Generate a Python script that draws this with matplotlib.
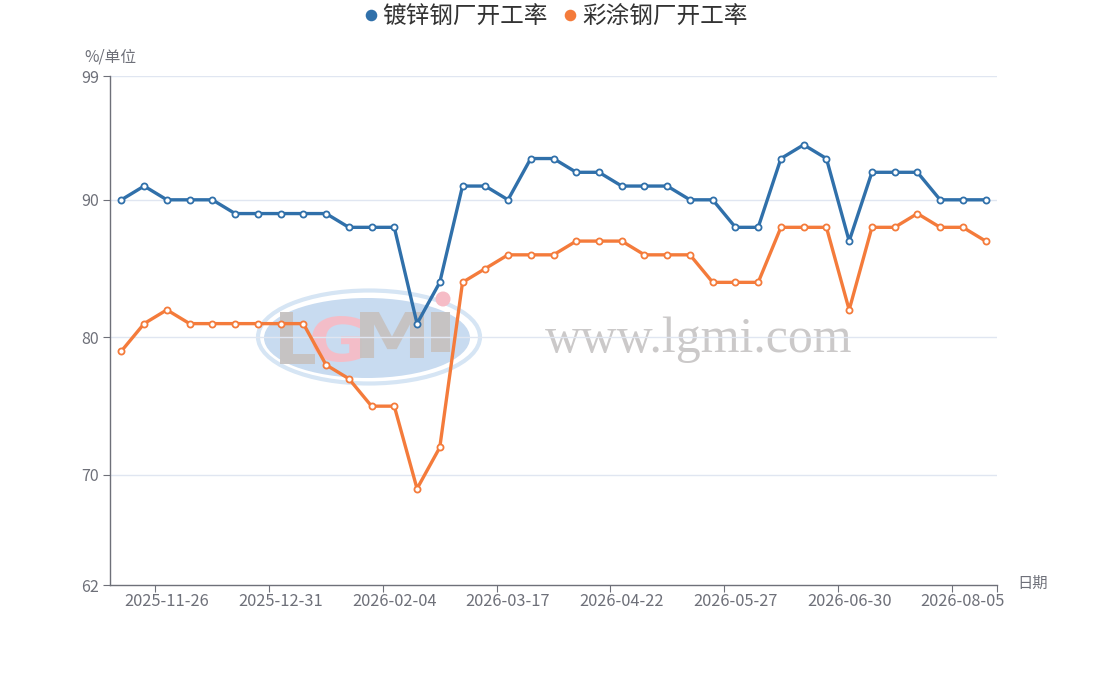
import matplotlib
matplotlib.use('Agg')
import matplotlib.pyplot as plt
from matplotlib.patches import Ellipse, Circle, PathPatch
from matplotlib.textpath import TextPath
from matplotlib.font_manager import FontProperties
from matplotlib.transforms import Affine2D

plt.rcParams['font.family'] = ['Noto Sans CJK SC', 'DejaVu Sans']

# weekly survey dates (only every 5th one is labelled on the axis)
DATES = ['2025-11-12', '2025-11-19', '2025-11-26', '2025-12-03', '2025-12-10',
         '2025-12-17', '2025-12-24', '2025-12-31', '2026-01-07', '2026-01-14',
         '2026-01-21', '2026-01-28', '2026-02-04', '2026-02-11', '2026-02-25',
         '2026-03-04', '2026-03-11', '2026-03-17', '2026-03-25', '2026-04-01',
         '2026-04-08', '2026-04-15', '2026-04-22', '2026-04-29', '2026-05-06',
         '2026-05-13', '2026-05-20', '2026-05-27', '2026-06-03', '2026-06-10',
         '2026-06-17', '2026-06-24', '2026-06-30', '2026-07-08', '2026-07-15',
         '2026-07-22', '2026-07-29', '2026-08-05', '2026-08-12']
GALV = [90, 91, 90, 90, 90, 89, 89, 89, 89, 89, 88, 88, 88, 81, 84, 91, 91, 90,
        93, 93, 92, 92, 91, 91, 91, 90, 90, 88, 88, 93, 94, 93, 87, 92, 92, 92,
        90, 90, 90]
COATED = [79, 81, 82, 81, 81, 81, 81, 81, 81, 78, 77, 75, 75, 69, 72, 84, 85, 86,
          86, 86, 87, 87, 87, 86, 86, 86, 84, 84, 84, 88, 88, 88, 82, 88, 88, 89,
          88, 88, 87]
NAMES = ['镀锌钢厂开工率', '彩涂钢厂开工率']
COLORS = ['#3070aa', '#f47b3b']
Y_TICKS = [62, 70, 80, 90, 99]
LABEL_EVERY = 5
LABEL_START = 2
GREY = '#6e7079'

W, H = 1107, 675
fig = plt.figure(figsize=(W / 100, H / 100), dpi=100)


def letter(axw, ch, box, color):
    """Draw one glyph stretched into box=(x0, x1, ytop, ybottom), pixel coords."""
    tp = TextPath((0, 0), ch, size=100,
                  prop=FontProperties(family='DejaVu Sans', weight='bold'))
    ext = tp.get_extents()
    x0, x1, yt, yb = box
    sx = (x1 - x0) / ext.width
    sy = (yb - yt) / ext.height
    tr = Affine2D().translate(-ext.x0, -ext.y0).scale(sx, -sy).translate(x0, yb)
    axw.add_patch(PathPatch(tr.transform_path(tp), facecolor=color,
                            edgecolor='none', alpha=0.95))


# watermark layer in pixel coordinates
wm = fig.add_axes([0, 0, 1, 1], zorder=0)
wm.set_xlim(0, W); wm.set_ylim(H, 0); wm.axis('off')
wm.add_patch(Ellipse((369, 337), 222, 93, facecolor='none', edgecolor='#d6e5f4', lw=3))
wm.add_patch(Ellipse((367, 338), 206, 80, facecolor='#c8dbf0', edgecolor='none'))
letter(wm, 'L', (280, 315, 312, 364), '#c6c2c1')
letter(wm, 'G', (312, 362, 316, 362), '#f6bcc6')
letter(wm, 'M', (360, 424, 312, 358), '#c6c2c1')
letter(wm, 'I', (431, 450, 312, 352), '#c6c2c1')
wm.add_patch(Circle((443, 299), 7.5, facecolor='#f6bcc6', edgecolor='none'))
wm.text(699, 340, 'www.lgmi.com', fontsize=36, color='#cbc9c9',
        family='Liberation Serif', ha='center', va='center')

l, r, t, b = 110, 997, 76, 585
ax = fig.add_axes([l / W, 1 - b / H, (r - l) / W, (b - t) / H], zorder=1)
ax.set_facecolor('none')

n = len(DATES)
x = list(range(n))
for vals, name, c in zip([GALV, COATED], NAMES, COLORS):
    ax.plot(x, vals, color=c, lw=2.4, marker='o', ms=4.4, mfc='white',
            mec=c, mew=1.3, label=name, zorder=3)

ax.set_xlim(-0.5, n - 0.5)
ax.set_ylim(Y_TICKS[0], Y_TICKS[-1])
ax.set_yticks(Y_TICKS)
ax.tick_params(axis='y', length=5, color=GREY, labelcolor=GREY,
               labelsize=11.5, pad=3)
for yv in Y_TICKS[1:]:
    ax.axhline(yv, color='#e0e6f1', lw=1, zorder=1)

lab_idx = list(range(LABEL_START, n, LABEL_EVERY))
ax.set_xticks([i - 0.5 for i in lab_idx] + [n - 0.5])
ax.set_xticklabels([])
ax.set_xticks(lab_idx, minor=True)
ax.set_xticklabels([DATES[i] for i in lab_idx], minor=True)
ax.tick_params(axis='x', which='major', length=5, color=GREY)
ax.tick_params(axis='x', which='minor', length=0, labelcolor=GREY,
               labelsize=11.8, pad=6)

for s in ['top', 'right']:
    ax.spines[s].set_visible(False)
for s in ['left', 'bottom']:
    ax.spines[s].set_color(GREY)
    ax.spines[s].set_linewidth(1)

fig.text(84 / W, 1 - 57 / H, '%/单位', fontsize=11.3, color=GREY, va='center')
fig.text(1017 / W, 1 - 583 / H, '日期', fontsize=11, color=GREY, va='center')

leg = fig.legend(loc='center', bbox_to_anchor=(556 / W, 1 - 17 / H), ncol=2,
                 frameon=False, fontsize=17, handlelength=0.5, handletextpad=0.25,
                 columnspacing=0.7, markerscale=1.6)
for h, c in zip(leg.legend_handles, COLORS):
    h.set_linestyle('none')
    h.set_markerfacecolor(c)
    h.set_markeredgecolor(c)
for txt in leg.get_texts():
    txt.set_color('#333333')

fig.savefig('out.png', dpi=100)
